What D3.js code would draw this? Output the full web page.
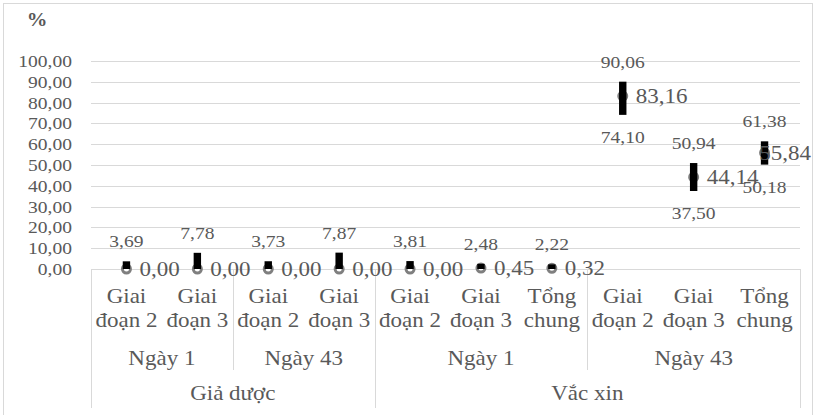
<!DOCTYPE html>
<html>
<head>
<meta charset="utf-8">
<script src="https://cdn.jsdelivr.net/npm/d3@7"></script>
<style>
  html, body { margin: 0; padding: 0; background: #fff; }
  svg { display: block; }
</style>
</head>
<body>
<svg id="chart" width="817" height="415"></svg>
<script>
// ---- data ----
const categories = ["Giai đoạn 2", "Giai đoạn 3", "Giai đoạn 2", "Giai đoạn 3", "Giai đoạn 2", "Giai đoạn 3", "Tổng chung", "Giai đoạn 2", "Giai đoạn 3", "Tổng chung"];
const subgroups = [
  { label: "Ngày 1", from: 0, to: 1 },
  { label: "Ngày 43", from: 2, to: 3 },
  { label: "Ngày 1", from: 4, to: 6 },
  { label: "Ngày 43", from: 7, to: 9 }
];
const groups = [
  { label: "Giả dược", from: 0, to: 3 },
  { label: "Vắc xin", from: 4, to: 9 }
];
const pointValues = [0, 0, 0, 0, 0, 0.45, 0.32, 83.16, 44.14, 55.84];
const highValues = [3.69, 7.78, 3.73, 7.87, 3.81, 2.48, 2.22, 90.06, 50.94, 61.38];
const lowValues = [0, 0, 0, 0, 0, 0, 0, 74.10, 37.50, 50.18];
const yTicks = [0, 10, 20, 30, 40, 50, 60, 70, 80, 90, 100];
const yUnit = "%";

// ---- layout ----
const FONT = "'Liberation Serif', monospace";
const svg = d3.select("#chart");
const SX = 1.15;
const fmt = v => d3.format(".2f")(v).replace(".", ",");

const x = d3.scaleBand().domain(d3.range(categories.length)).range([91, 800]).padding(0);
const y = d3.scaleLinear().domain([0, 100]).range([269, 61]);

function txt(g, px, py, str, size, anchor, weight) {
  return g.append("text")
    .attr("transform", `translate(${px},${py}) scale(${SX},1)`)
    .attr("text-anchor", anchor || "middle")
    .attr("font-family", FONT)
    .attr("font-size", size)
    .attr("font-weight", weight || "normal")
    .attr("fill", "#595959")
    .text(str);
}

// outer border
svg.append("rect").attr("x", 3.5).attr("y", 3.5).attr("width", 809).attr("height", 420)
  .attr("fill", "none").attr("stroke", "#d9d9d9").attr("stroke-width", 1);

// gridlines
const grid = svg.append("g");
grid.selectAll("line").data(yTicks.filter(t => t > 0)).join("line")
  .attr("x1", 91).attr("x2", 800)
  .attr("y1", d => Math.round(y(d)) + 0.5).attr("y2", d => Math.round(y(d)) + 0.5)
  .attr("stroke", "#d9d9d9").attr("stroke-width", 1);

// y tick labels
const yg = svg.append("g");
yTicks.forEach(t => txt(yg, 72, y(t) + 6, fmt(t), 17, "end"));
txt(yg, 37, 26, yUnit, 18, "middle", "bold");

// category axis box
const ax = svg.append("g").attr("stroke", "#d9d9d9").attr("stroke-width", 1);
ax.append("line").attr("x1", 91).attr("x2", 800).attr("y1", 269.5).attr("y2", 269.5);
const groupEdges = [x(groups[0].from)].concat(groups.map(g => x(g.to) + x.bandwidth()));
groupEdges.forEach(e => ax.append("line")
  .attr("x1", Math.round(e) + 0.5).attr("x2", Math.round(e) + 0.5)
  .attr("y1", 269).attr("y2", 408));
subgroups.forEach(s => {
  const e = x(s.to) + x.bandwidth();
  const isGroupEdge = groupEdges.some(ge => Math.abs(ge - e) < 0.5);
  if (!isGroupEdge) {
    ax.append("line")
      .attr("x1", Math.round(e) + 0.5).attr("x2", Math.round(e) + 0.5)
      .attr("y1", 269).attr("y2", 370);
  }
});

// category labels (two lines)
const cg = svg.append("g");
categories.forEach((c, i) => {
  const cx = x(i) + x.bandwidth() / 2;
  const parts = c.split(" ");
  txt(cg, cx, 303, parts[0], 20);
  txt(cg, cx, 327, parts.slice(1).join(" "), 20);
});
subgroups.forEach(s => {
  const cx = (x(s.from) + x(s.to) + x.bandwidth()) / 2;
  txt(cg, cx, 365, s.label, 20);
});
groups.forEach(g => {
  const cx = (x(g.from) + x(g.to) + x.bandwidth()) / 2;
  txt(cg, cx, 400, g.label, 20);
});

// marks
const mg = svg.append("g");
const cxOf = i => x(i) + x.bandwidth() / 2;
mg.selectAll("circle").data(pointValues).join("circle")
  .attr("cx", (d, i) => cxOf(i)).attr("cy", d => y(d)).attr("r", 4)
  .attr("fill", "#fff").attr("stroke", "#7f7f7f").attr("stroke-width", 3);
mg.selectAll("rect").data(highValues).join("rect")
  .attr("x", (d, i) => cxOf(i) - 3.7)
  .attr("width", 7.4)
  .attr("y", d => y(d))
  .attr("height", (d, i) => y(lowValues[i]) - y(d))
  .attr("fill", "#000");

// data labels
const lg = svg.append("g");
highValues.forEach((v, i) => txt(lg, cxOf(i), y(v) - 14, fmt(v), 17));
lowValues.forEach((v, i) => { if (v > 0) txt(lg, cxOf(i), y(v) + 28, fmt(v), 17); });
pointValues.forEach((v, i) => {
  const t = txt(lg, cxOf(i) + 13, y(v) + 7, fmt(v), 20, "start");
  const w = t.node().getComputedTextLength() * SX;
  const maxRight = 811;
  const px = Math.min(cxOf(i) + 13, maxRight - w);
  t.attr("transform", `translate(${px},${y(v) + 7}) scale(${SX},1)`);
});
</script>
</body>
</html>
